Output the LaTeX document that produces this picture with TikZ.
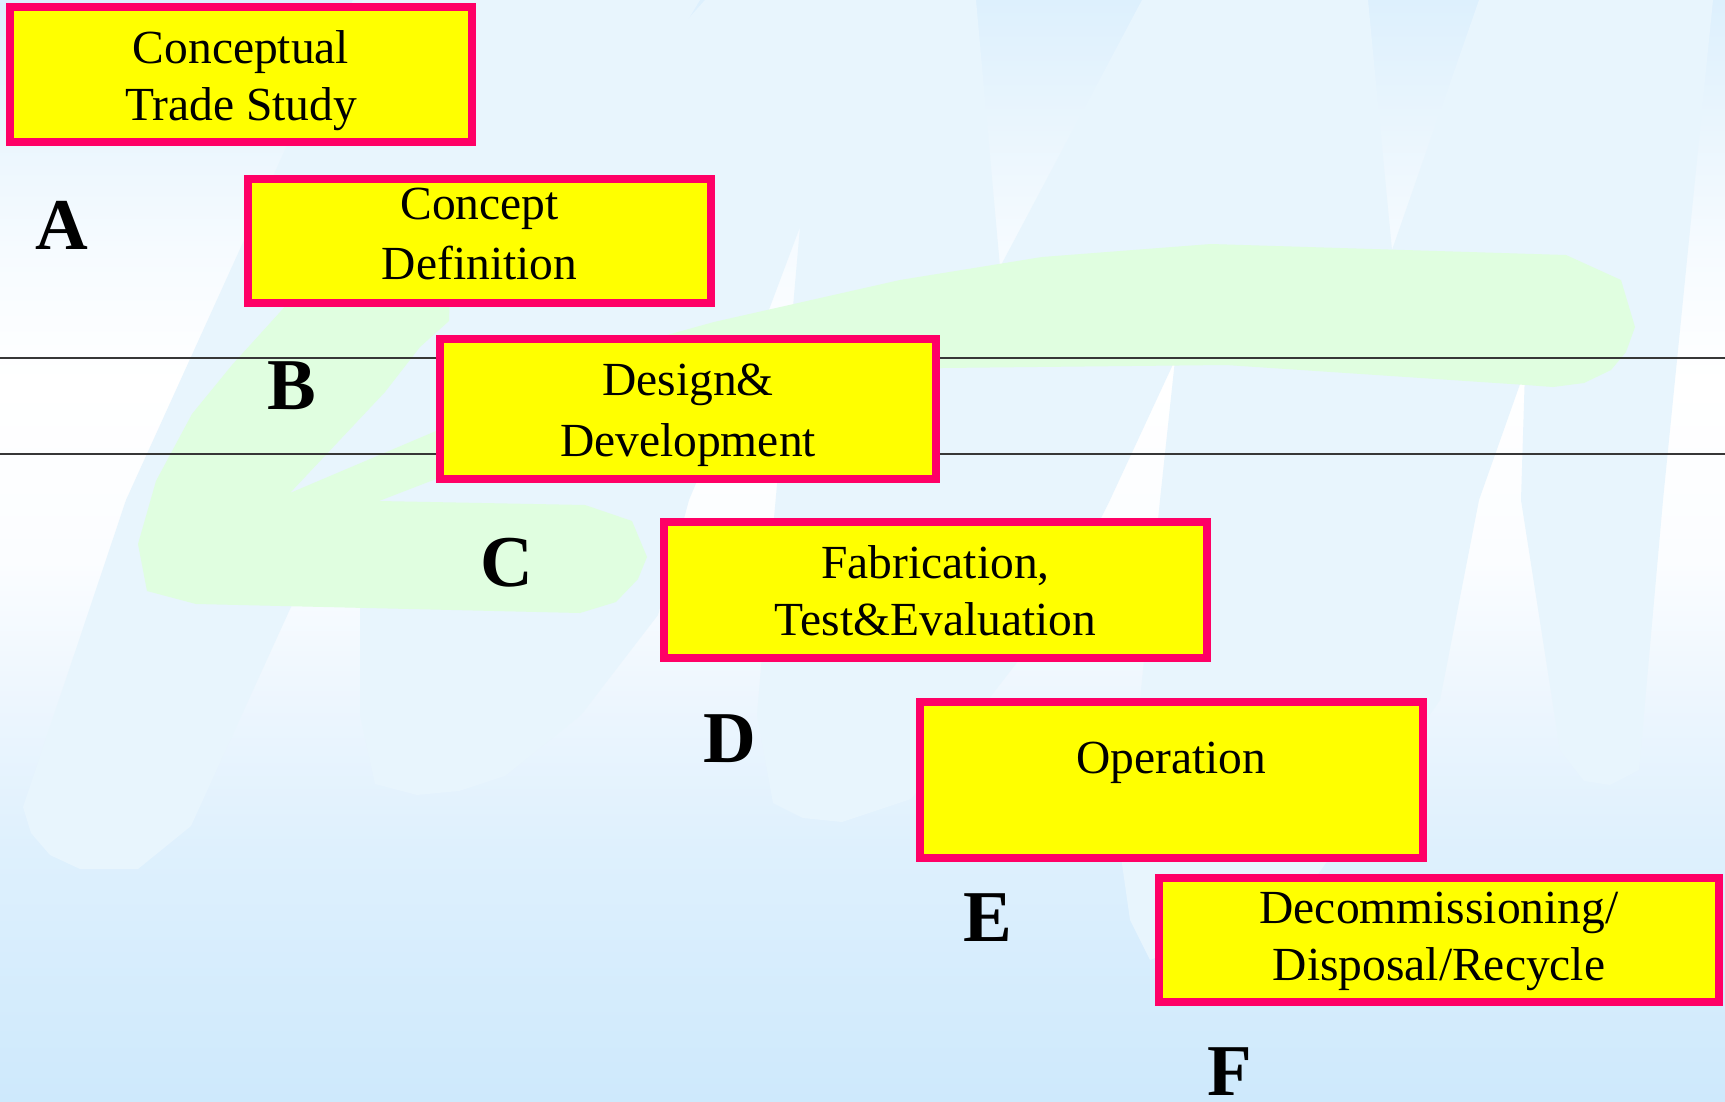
\documentclass[tikz,border=0pt]{standalone}
\usepackage{fontspec}
\setmainfont{Liberation Serif}

\definecolor{skyA}{RGB}{221,240,253}
\definecolor{skyB}{RGB}{233,245,253}
\definecolor{skyC}{RGB}{246,251,255}
\definecolor{skyD}{RGB}{255,255,255}
\definecolor{skyE}{RGB}{251,253,255}
\definecolor{skyF}{RGB}{237,246,254}
\definecolor{skyG}{RGB}{222,240,253}
\definecolor{skyH}{RGB}{206,233,252}
\definecolor{brushblue}{RGB}{232,245,253}
\definecolor{brushgreen}{RGB}{224,254,224}
\definecolor{phaseborder}{RGB}{255,0,102}
\definecolor{phasefill}{RGB}{255,255,0}
\definecolor{dividergray}{RGB}{55,55,55}

\begin{document}
\begin{tikzpicture}[x=1pt,y=-1pt,
  phase/.style={rectangle, draw=phaseborder, fill=phasefill, line width=8pt, inner sep=0pt},
  phasetext/.style={anchor=base, inner sep=0pt, text=black},
  milestone/.style={anchor=base west, inner sep=0pt, font=\fontsize{73}{80}\selectfont\bfseries},
  divider/.style={draw=dividergray, line width=2.5pt},
  brush/.style={fill=brushblue},
  swash/.style={fill=brushgreen}]

\useasboundingbox (0,0) rectangle (1725,1101);

% sky background, banded vertical gradient
\shade[top color=skyA, bottom color=skyB] (0,0) rectangle (1725,121);
\shade[top color=skyB, bottom color=skyC] (0,120) rectangle (1725,251);
\shade[top color=skyC, bottom color=skyD] (0,250) rectangle (1725,381);
\shade[top color=skyD, bottom color=skyE] (0,380) rectangle (1725,561);
\shade[top color=skyE, bottom color=skyF] (0,560) rectangle (1725,701);
\shade[top color=skyF, bottom color=skyG] (0,700) rectangle (1725,851);
\shade[top color=skyG, bottom color=skyH] (0,850) rectangle (1725,1101);

% faint brush lettering
\fill[brush] (353,0) -- (700,0) -- (560,230) -- (420,420) -- (291,607)
  -- (191,826) -- (138,869) -- (80,869) -- (50,855) -- (31,833) -- (23,807)
  -- (126,500) -- (250,227) -- cycle;
\fill[brush] (705,0) -- (976,0) -- (1000,267) -- (1142,0) -- (1368,0)
  -- (1392,250) -- (1479,0) -- (1713,0) -- (1663,500) -- (1639,770)
  -- (1610,785) -- (1584,781) -- (1560,750) -- (1521,500) -- (1525,370)
  -- (1479,500) -- (1440,700) -- (1300,900) -- (1150,960) -- (1130,920)
  -- (1120,850) -- (1140,700) -- (1160,500) -- (1175,360) -- (1110,500)
  -- (1050,620) -- (911,799) -- (842,822) -- (803,818) -- (773,803)
  -- (757,715) -- (766,607) -- (793,307) -- (800,227) -- (770,307)
  -- (689,500) -- (658,615) -- (581,715) -- (505,776) -- (459,791)
  -- (417,795) -- (375,784) -- (360,715) -- (360,611) -- (380,392)
  -- (500,230) -- cycle;

% green swash
\fill[swash] (300,290) -- (450,290) -- (449,321) -- (420,347) -- (385,392)
  -- (290,493) -- (436,431) -- (560,380) -- (660,337) -- (714,322)
  -- (900,280) -- (1042,257) -- (1211,244) -- (1566,255) -- (1621,280)
  -- (1635,327) -- (1626,352) -- (1611,370) -- (1584,383) -- (1553,387)
  -- (1526,385) -- (1226,365) -- (942,368) -- (700,420) -- (436,479)
  -- (379,501) -- (585,505) -- (632,521) -- (647,557) -- (638,579)
  -- (616,602) -- (580,613) -- (196,604) -- (147,591) -- (138,544)
  -- (156,481) -- (192,414) -- (232,365) -- cycle;

% horizontal divider lines
\coordinate (d1w) at (0,358);
\coordinate (d1e) at (1725,358);
\coordinate (d2w) at (0,454);
\coordinate (d2e) at (1725,454);
\draw[divider] (d1w) -- (d1e);
\draw[divider] (d2w) -- (d2e);

% phase boxes
\node[phase, minimum width=462pt, minimum height=135pt] (b1) at (241,74.5) {};
\node[phase, minimum width=463pt, minimum height=124pt] (b2) at (479.5,241) {};
\node[phase, minimum width=496pt, minimum height=140pt] (b3) at (688,409) {};
\node[phase, minimum width=543pt, minimum height=136pt] (b4) at (935.5,590) {};
\node[phase, minimum width=503pt, minimum height=156pt] (b5) at (1171.5,780) {};
\node[phase, minimum width=560pt, minimum height=124pt] (b6) at (1439,940) {};

% phase labels
\node[phasetext, font=\fontsize{47.5}{57}\selectfont] (l1) at (241,63)
  {\begin{tabular}[t]{@{}c@{}}Conceptual\\Trade Study\end{tabular}};
\node[phasetext, font=\fontsize{47.5}{60}\selectfont] (l2) at (479.5,219)
  {\begin{tabular}[t]{@{}c@{}}Concept\\Definition\end{tabular}};
\node[phasetext, font=\fontsize{47.5}{61}\selectfont] (l3) at (688,395)
  {\begin{tabular}[t]{@{}c@{}}Design\&\\Development\end{tabular}};
\node[phasetext, font=\fontsize{47.5}{57}\selectfont] (l4) at (935.5,578)
  {\begin{tabular}[t]{@{}c@{}}Fabrication,\\Test\&Evaluation\end{tabular}};
\node[phasetext, font=\fontsize{47.5}{57}\selectfont] (l5) at (1171.5,773)
  {Operation};
\node[phasetext, font=\fontsize{47.5}{57}\selectfont] (l6) at (1439,923)
  {\begin{tabular}[t]{@{}c@{}}Decommissioning/\\Disposal/Recycle\end{tabular}};

% milestone letters
\node[milestone] (mA) at (35,249) {A};
\node[milestone] (mB) at (267,409) {B};
\node[milestone] (mC) at (480,586) {C};
\node[milestone] (mD) at (703,762) {D};
\node[milestone] (mE) at (963,941) {E};
\node[milestone] (mF) at (1207,1095) {F};

\end{tikzpicture}
\end{document}
